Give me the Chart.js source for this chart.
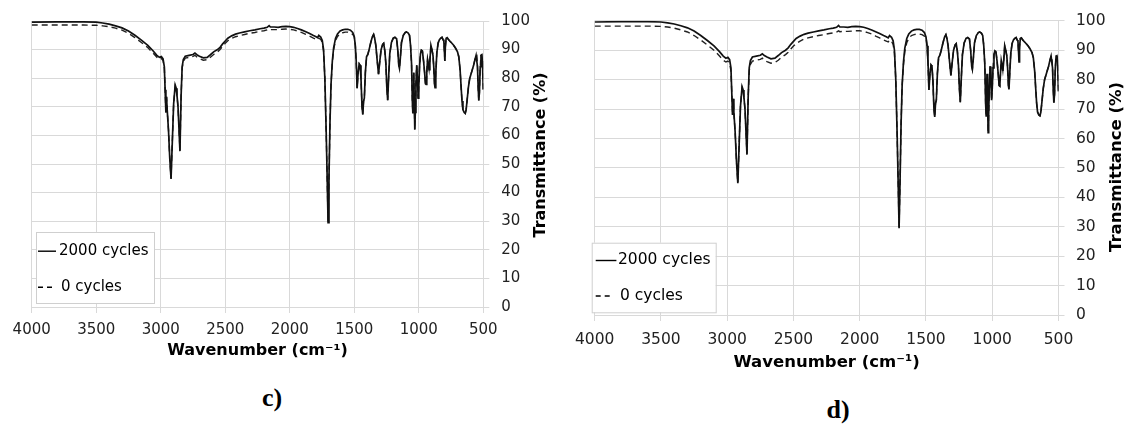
<!DOCTYPE html>
<html>
<head>
<meta charset="utf-8">
<script src="https://cdn.jsdelivr.net/npm/chart.js@4.4.1/dist/chart.umd.min.js"></script>
<style>
  body { margin: 0; background: #fff; width: 1130px; height: 426px; position: relative; overflow: hidden; }
  canvas { position: absolute; top: 0; }
  #chart-c { left: 0; }
  #chart-d { left: 565px; }
  .panel-label { position: absolute; font-family: "Liberation Serif", "Times New Roman", serif; font-weight: bold; font-size: 26px; transform: translate(-50%, -50%); }
</style>
</head>
<body>
<canvas id="chart-c" width="565" height="370"></canvas>
<canvas id="chart-d" width="565" height="385"></canvas>
<div class="panel-label" style="left:272px; top:398px">c)</div>
<div class="panel-label" style="left:838px; top:410px">d)</div>
<script>
// wavenumbers (cm-1) of the broad region, 4000 -> 1512
const wnHigh = [4000, 3800, 3600, 3500, 3450, 3400, 3350, 3300, 3250, 3200, 3150, 3100, 3060, 3030, 3010, 2995, 2982, 2972,
  2966, 2960, 2955, 2950, 2940, 2930, 2920, 2910, 2900, 2888, 2880, 2874, 2866, 2851, 2842, 2834, 2825, 2810,
  2780, 2750, 2735, 2720, 2700, 2670, 2640, 2615, 2590, 2560, 2540, 2520, 2500, 2480, 2450, 2420, 2390, 2350,
  2310, 2270, 2230, 2200, 2175, 2160, 2150, 2120, 2090, 2060, 2030, 2000, 1970, 1940, 1910, 1880, 1850, 1820,
  1800, 1785, 1775, 1760, 1748, 1738, 1728, 1718, 1710, 1703, 1696, 1688, 1680, 1670, 1660, 1645, 1630, 1610,
  1590, 1570, 1550, 1530, 1512];

// transmittance (%) after 2000 cycles (same in both panels)
const solidHigh = [99.6, 99.7, 99.7, 99.6, 99.3, 98.9, 98.3, 97.6, 96.5, 95.0, 93.3, 91.5, 89.6, 88.0, 87.3, 87.6, 86.8, 84,
  76, 68, 73.5, 69, 62, 52, 44.8, 58, 71, 77.6, 76.5, 74, 70, 54.5, 74, 84, 86.5, 87.7,
  88.0, 88.3, 88.8, 88.2, 87.7, 87.1, 87.3, 88.2, 89.2, 90.0, 90.8, 92.0, 93.0, 94.0, 94.8, 95.4, 95.8, 96.2,
  96.6, 96.9, 97.3, 97.5, 97.8, 98.4, 97.9, 97.9, 97.8, 98.0, 98.1, 98.0, 97.8, 97.4, 96.9, 96.3, 95.7, 95.0,
  94.6, 94.2, 95.0, 94.4, 93.2, 90, 80, 62, 45, 29.5, 45, 65, 78, 86, 90.6, 94, 95.5, 96.5,
  96.9, 97.1, 97.1, 96.8, 96.0];

// transmittance (%) at 0 cycles, panel c
const zeroHighC = [98.6, 98.6, 98.6, 98.5, 98.3, 98.0, 97.5, 96.8, 95.7, 94.2, 92.5, 90.7, 88.8, 87.3, 86.6, 86.9, 86.2, 83.5,
  76, 68, 73.5, 69, 62, 52, 45, 58, 71, 77.3, 76.3, 74, 70, 54.8, 74, 83.5, 85.8, 87.0,
  87.3, 87.6, 88.0, 87.4, 86.9, 86.3, 86.5, 87.3, 88.3, 89.2, 90.0, 91.2, 92.2, 93.1, 93.9, 94.5, 94.9, 95.3,
  95.7, 96.0, 96.4, 96.6, 96.9, 97.2, 97.0, 97.0, 97.0, 97.1, 97.2, 97.1, 96.9, 96.5, 96.0, 95.4, 94.8, 94.1,
  93.7, 93.4, 94.0, 93.6, 92.5, 89.5, 80, 62, 45, 29.5, 45, 65, 78, 85.5, 90, 93.2, 94.6, 95.6,
  95.9, 96.1, 96.1, 95.9, 95.3];

// transmittance (%) at 0 cycles, panel d
const zeroHighD = [98.2, 98.2, 98.2, 98.1, 97.9, 97.5, 96.9, 96.2, 95.0, 93.5, 91.8, 90.0, 88.1, 86.6, 86.0, 86.3, 85.6, 83,
  76, 68, 73.5, 69, 62, 52, 45, 58, 71, 77.3, 76.3, 74, 70, 54.8, 74, 83, 85.2, 86.3,
  86.6, 86.9, 87.3, 86.7, 86.1, 85.6, 85.8, 86.6, 87.6, 88.5, 89.3, 90.4, 91.4, 92.3, 93.1, 93.8, 94.2, 94.6,
  95.0, 95.3, 95.7, 95.9, 96.2, 96.6, 96.3, 96.4, 96.4, 96.5, 96.6, 96.6, 96.4, 96.0, 95.5, 94.8, 94.2, 93.5,
  93.1, 92.8, 93.5, 93.0, 92.0, 89, 80, 62, 45, 29.5, 45, 65, 78, 85, 89.5, 92.6, 94.0, 95.0,
  95.3, 95.5, 95.5, 95.3, 94.8];

// fingerprint region 1500 -> 500, both curves overlap here
const wnLow = [1500, 1492, 1485, 1478, 1470, 1462, 1455, 1448, 1440, 1434, 1428, 1422, 1414, 1405, 1395, 1385, 1373, 1360,
  1350, 1342, 1333, 1322, 1312, 1302, 1292, 1280, 1272, 1263, 1255, 1248, 1241, 1234, 1225, 1212, 1198, 1185,
  1172, 1163, 1155, 1150, 1143, 1134, 1120, 1105, 1095, 1082, 1072, 1064, 1056, 1050, 1046, 1042, 1039, 1035,
  1031, 1027, 1022, 1016, 1010, 1005, 1000, 994, 987, 980, 972, 963, 955, 948, 943, 938, 932, 926,
  920, 914, 906, 898, 890, 884, 878, 874, 868, 860, 850, 840, 830, 820, 812, 806, 801, 798,
  794, 788, 780, 770, 760, 745, 730, 715, 700, 690, 680, 672, 665, 658, 648, 640, 633, 625,
  615, 605, 595, 585, 575, 565, 556, 550, 545, 540, 535, 530, 524, 518, 512, 507, 503, 500];
const tLow = [94.5, 91.5, 86, 76.5, 82, 85, 84.5, 80, 70, 67.3, 72, 73, 82, 87.5, 88.3, 90, 92.3, 94.5,
  95.3, 94, 91.5, 86, 81.4, 86, 90, 91.8, 92.2, 89.5, 85, 77, 72.3, 80, 88.5, 92.5, 94, 94.3,
  93.8, 90, 84.5, 83.5, 87, 92.5, 95, 96, 96.2, 95.8, 95, 91.5, 85, 72, 67.7, 75, 82, 72,
  62, 68, 78, 84.5, 80, 73, 77, 84, 88.5, 89.8, 89.5, 86, 82, 78, 77.8, 82, 86.5, 85,
  83, 86, 91.5, 90, 88, 84, 78, 76.7, 82, 89, 92.3, 93.5, 94, 94.3, 93.5, 93, 89, 86,
  91, 94, 94.2, 93.5, 93, 92.3, 91.5, 90.5, 89.2, 87.5, 83, 77, 72, 69, 68, 67.7, 69, 72.5,
  77, 80, 81.5, 83, 84.5, 86.5, 88, 88, 84, 77, 72.2, 75, 84, 88, 88.2, 86, 80, 76];

const xTicks = [4000, 3500, 3000, 2500, 2000, 1500, 1000, 500];
const seriesNames = ['2000 cycles', '0 cycles'];

function toPoints(xs, ys) {
  return xs.map((x, i) => ({ x: x, y: ys[i] }));
}

const wavenumbers = wnHigh.concat(wnLow);
const solidAll = solidHigh.concat(tLow);
const zeroC = zeroHighC.concat(tLow);
const zeroD = zeroHighD.concat(tLow);

const gridColor = '#d9d9d9';
const fontFamily = '"DejaVu Sans", Verdana, sans-serif';

// legend drawn inside the plot, Excel style
function legendPlugin(cfg) {
  return {
    id: 'boxLegend',
    afterDatasetsDraw(chart) {
      const ctx = chart.ctx;
      ctx.save();
      ctx.fillStyle = '#fff';
      ctx.fillRect(cfg.x, cfg.y, cfg.w, cfg.h);
      ctx.strokeStyle = '#cfcfcf';
      ctx.lineWidth = 1;
      ctx.strokeRect(cfg.x + 0.5, cfg.y + 0.5, cfg.w, cfg.h);
      ctx.font = cfg.font + 'px ' + fontFamily;
      ctx.textBaseline = 'middle';
      ctx.fillStyle = '#000';
      chart.data.datasets.forEach((ds, i) => {
        const y = cfg.rows[i];
        const dashed = !!ds.borderDash;
        ctx.beginPath();
        ctx.strokeStyle = '#000';
        ctx.lineWidth = 1.4;
        ctx.setLineDash(dashed ? [5, 4] : []);
        ctx.moveTo(cfg.lineX[0], y + 0.5);
        ctx.lineTo(dashed ? cfg.lineX[0] + 14 : cfg.lineX[1], y + 0.5);
        ctx.stroke();
        ctx.setLineDash([]);
        ctx.fillText(ds.label, dashed ? cfg.textX + 2 : cfg.textX, y);
      });
      ctx.restore();
    }
  };
}

// y title reads bottom to top on the right side
function yTitlePlugin(cfg) {
  return {
    id: 'yTitle',
    afterDraw(chart) {
      const ctx = chart.ctx;
      ctx.save();
      ctx.translate(cfg.x, cfg.y);
      ctx.rotate(-Math.PI / 2);
      ctx.font = 'bold ' + cfg.font + 'px ' + fontFamily;
      ctx.fillStyle = '#000';
      ctx.textAlign = 'center';
      ctx.textBaseline = 'middle';
      ctx.fillText('Transmittance (%)', 0, 0);
      ctx.restore();
    }
  };
}

function makeChart(canvasId, zeroValues, p) {
  const canvas = document.getElementById(canvasId);
  return new Chart(canvas.getContext('2d'), {
    type: 'line',
    data: {
      datasets: [
        {
          label: seriesNames[0],
          data: toPoints(wavenumbers, solidAll),
          borderColor: '#111',
          borderWidth: 1.7,
          pointRadius: 0,
          tension: 0
        },
        {
          label: seriesNames[1],
          data: toPoints(wavenumbers, zeroValues),
          borderColor: '#222',
          borderWidth: 1.4,
          borderDash: [6, 4],
          pointRadius: 0,
          tension: 0
        }
      ]
    },
    options: {
      responsive: false,
      animation: false,
      devicePixelRatio: 1,
      layout: { padding: { left: p.left, top: 15, right: 0, bottom: 0 } },
      plugins: { legend: { display: false }, tooltip: { enabled: false } },
      scales: {
        x: {
          type: 'linear',
          reverse: true,
          min: 500,
          max: 4000,
          afterBuildTicks: axis => { axis.ticks = xTicks.map(v => ({ value: v })); },
          afterFit: axis => { axis.height = p.xHeight; },
          ticks: {
            callback: v => String(v),
            maxRotation: 0,
            autoSkip: false,
            padding: p.xPad,
            color: '#222',
            font: { family: fontFamily, size: p.tick }
          },
          grid: { color: gridColor, tickLength: 6 },
          border: { color: gridColor },
          title: {
            display: true,
            text: 'Wavenumber (cm\u207B\u00B9)',
            color: '#000',
            font: { family: fontFamily, size: p.title, weight: 'bold' },
            padding: { top: 0, bottom: p.titlePad }
          }
        },
        y: {
          position: 'right',
          min: 0,
          max: 100,
          afterFit: axis => { axis.width = p.yWidth; },
          ticks: {
            stepSize: 10,
            padding: p.yPad,
            color: '#222',
            font: { family: fontFamily, size: p.tick }
          },
          grid: { color: gridColor, tickLength: 6 },
          border: { color: gridColor }
        }
      }
    },
    plugins: [legendPlugin(p.legend), yTitlePlugin(p.yTitle)]
  });
}

makeChart('chart-c', zeroC, {
  left: 31.7, xHeight: 63, yWidth: 81.7, xPad: 8, yPad: 12, tick: 15, title: 16, titlePad: 10,
  legend: { x: 36, y: 232, w: 118, h: 71, rows: [250.7, 286.7], lineX: [38, 56], textX: 59, font: 15 },
  yTitle: { x: 541, y: 155, font: 16 }
});

makeChart('chart-d', zeroD, {
  left: 24, xHeight: 70, yWidth: 71.5, xPad: 10, yPad: 11.5, tick: 15.5, title: 16.5, titlePad: 12,
  legend: { x: 26.7, y: 242.7, w: 124, h: 69.6, rows: [260, 295.5], lineX: [30.7, 51.4], textX: 53, font: 15.5 },
  yTitle: { x: 551.7, y: 167, font: 16.5 }
});
</script>
</body>
</html>
